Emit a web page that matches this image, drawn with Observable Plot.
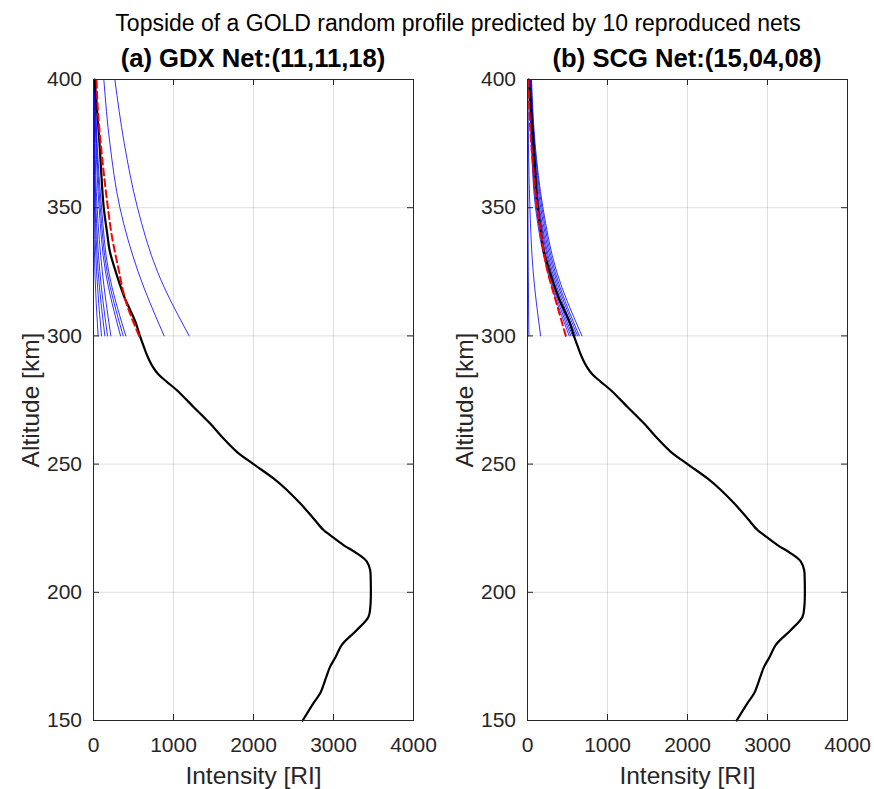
<!DOCTYPE html>
<html>
<head>
<meta charset="utf-8">
<script src="https://cdn.jsdelivr.net/npm/d3@7"></script>
<script src="https://cdn.jsdelivr.net/npm/@observablehq/plot@0.6"></script>
<style>
  html, body { margin: 0; padding: 0; background: #fff; }
  #wrap { position: relative; width: 874px; height: 789px; background: #fff; font-family: "Liberation Sans", Arial, sans-serif; color: #000; }
  .t { position: absolute; white-space: nowrap; line-height: 1; }
  #title { font-size: 23px; top: 12px; left: 458px; transform: translateX(-50%); }
  .sub { font-size: 25.6px; font-weight: bold; top: 46px; transform: translateX(-50%); }
  .panel { position: absolute; top: 0; }
</style>
</head>
<body>
<div id="wrap">
  <div id="title" class="t">Topside of a GOLD random profile predicted by 10 reproduced nets</div>
  <div class="t sub" style="left:253px">(a) GDX Net:(11,11,18)</div>
  <div class="t sub" style="left:687px">(b) SCG Net:(15,04,08)</div>
  <div id="pa" class="panel" style="left:0px"></div>
  <div id="pb" class="panel" style="left:434px"></div>
</div>
<script>
// ---------- data ----------
const xTicks = [0, 1000, 2000, 3000, 4000];
const yTicks = [150, 200, 250, 300, 350, 400];

// measured GOLD profile (black)
const truthAlt = [150, 156.8, 160.6, 167, 171, 175, 179.5, 185.3, 190.5, 195, 200, 205, 208.7, 212, 215.2, 218.4, 222.3, 224.3, 228.8, 234.7, 239.9, 244.4, 250, 254.8, 260, 265.8, 272.3, 278.8, 282, 285, 288, 291, 294, 297, 300, 305, 310, 314, 320, 327, 333, 340, 350, 362, 375, 388, 400];
const truthInt = [2615, 2750, 2833, 2910, 2958, 3030, 3104, 3292, 3438, 3462, 3467, 3465, 3458, 3417, 3292, 3125, 2958, 2875, 2750, 2583, 2417, 2250, 2000, 1792, 1625, 1458, 1250, 1042, 920, 810, 740, 690, 650, 615, 580, 530, 460, 400, 330, 258, 204, 171, 128, 100, 75, 45, 15];

// red dashed topside fits
const gdxFitAlt = [300, 313.9, 326.8, 339.8, 350, 364.5, 377.5, 390.5, 400];
const gdxFitInt = [570, 400, 308, 225, 180, 125, 83, 50, 38];
const scgFitAlt = [300, 313, 326, 338, 351, 364, 377, 390, 400];
const scgFitInt = [479, 360, 245, 178, 118, 76, 42, 21, 13];

// blue: 10 reproduced nets, intensity at these altitudes
const netAlt = [300, 325, 350, 375, 400];
const gdxNets = [
  [1196, 800, 550, 385, 267],
  [883, 558, 330, 205, 129],
  [404, 190, 100, 45, 18],
  [371, 170, 85, 38, 15],
  [338, 150, 70, 30, 12],
  [217, 110, 45, 18, 7],
  [175, 79, 30, 12, 5],
  [142, 58, 20, 8, 3],
  [100, 38, 12, 5, 2],
  [58, 17, 5, 2, 1]
];
const scgNets = [
  [681, 365, 193, 95, 50],
  [647, 345, 180, 88, 45],
  [626, 328, 165, 80, 40],
  [605, 310, 150, 72, 35],
  [584, 295, 140, 66, 30],
  [563, 280, 125, 60, 26],
  [542, 265, 112, 54, 22],
  [521, 250, 100, 48, 18],
  [164, 71, 30, 12, 5],
  [17, 10, 6, 3, 1]
];

// ---------- build ----------
const truth = truthAlt.map((a, i) => ({alt: a, v: truthInt[i]}));
const toRows = (alts, vals) => alts.map((a, i) => ({alt: a, v: vals[i]}));
const netRows = nets => nets.flatMap((vals, k) => netAlt.map((a, i) => ({net: k, alt: a, v: vals[i]})));

const FONT = '"Liberation Sans", Arial, sans-serif';
const AX = "#262626";

function panel(nets, fit) {
  return Plot.plot({
    width: 437, height: 789,
    marginTop: 79, marginBottom: 69, marginLeft: 93, marginRight: 24,
    x: {domain: [0, 4000], label: null},
    y: {domain: [150, 400], label: null},
    style: {fontFamily: FONT, fontSize: "21px", color: AX, background: "transparent", overflow: "visible"},
    marks: [
      Plot.gridX(xTicks, {stroke: AX, strokeOpacity: 0.15}),
      Plot.gridY(yTicks, {stroke: AX, strokeOpacity: 0.15}),
      Plot.line(netRows(nets), {x: "v", y: "alt", z: "net", stroke: "#0000ff", strokeWidth: 0.9, strokeOpacity: 0.9, curve: "monotone-y"}),
      Plot.line(truth, {x: "v", y: "alt", stroke: "#000", strokeWidth: 2.2, curve: "catmull-rom"}),
      Plot.line(fit, {x: "v", y: "alt", stroke: "#ff0000", strokeWidth: 2, strokeDasharray: "7,4", curve: "monotone-y"}),
      Plot.frame({stroke: AX, strokeWidth: 1}),
      Plot.tickX(xTicks, {x: d => d, stroke: AX, insetTop: 635}),
      Plot.tickX(xTicks, {x: d => d, stroke: AX, insetBottom: 635}),
      Plot.tickY(yTicks, {y: d => d, stroke: AX, insetRight: 314}),
      Plot.tickY(yTicks, {y: d => d, stroke: AX, insetLeft: 314}),
      Plot.axisX(xTicks, {tickSize: 0, tickPadding: 17, fontSize: 21, tickFormat: d => String(d), label: null}),
      Plot.axisY(yTicks, {tickSize: 0, tickPadding: 11.5, fontSize: 21, tickFormat: d => String(d), label: null}),
      Plot.axisX({ticks: [], label: "Intensity [RI]", labelAnchor: "center", labelOffset: 63, labelArrow: "none", fontSize: 24.5}),
      Plot.axisY({ticks: [], label: "Altitude [km]", labelAnchor: "center", labelOffset: 72, labelArrow: "none", fontSize: 24.5})
    ]
  });
}

document.getElementById("pa").appendChild(panel(gdxNets, toRows(gdxFitAlt, gdxFitInt)));
document.getElementById("pb").appendChild(panel(scgNets, toRows(scgFitAlt, scgFitInt)));
</script>
</body>
</html>
